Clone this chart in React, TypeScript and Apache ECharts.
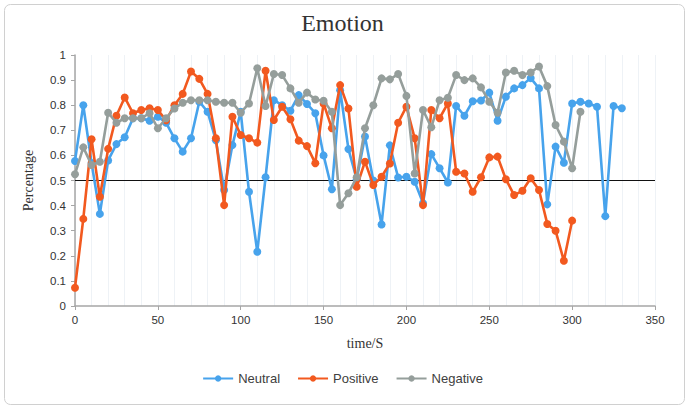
import React, { useEffect, useRef } from "react";
import * as echarts from "echarts";

const times = [
  0, 5, 10, 15, 20, 25, 30, 35, 40, 45, 50, 55, 60, 65, 70, 75, 80, 85, 90, 95,
  100, 105, 110, 115, 120, 125, 130, 135, 140, 145, 150, 155, 160, 165, 170, 175,
  180, 185, 190, 195, 200, 205, 210, 215, 220, 225, 230, 235, 240, 245, 250, 255,
  260, 265, 270, 275, 280, 285, 290, 295, 300, 305, 310, 315, 320, 325, 330,
];

const neutral = [
  0.578, 0.8, 0.57, 0.367, 0.58, 0.645, 0.672, 0.748, 0.748, 0.738, 0.754, 0.73,
  0.668, 0.615, 0.668, 0.814, 0.774, 0.66, 0.462, 0.641, 0.774, 0.455, 0.216,
  0.513, 0.82, 0.8, 0.778, 0.84, 0.805, 0.768, 0.6, 0.465, 0.86, 0.625, 0.505,
  0.675, 0.5, 0.325, 0.64, 0.512, 0.515, 0.495, 0.41, 0.605, 0.549, 0.492, 0.797,
  0.758, 0.816, 0.819, 0.85, 0.738, 0.834, 0.867, 0.88, 0.908, 0.867, 0.405,
  0.635, 0.571, 0.807, 0.814, 0.807, 0.794, 0.358, 0.797, 0.788,
];

const positive = [
  0.073, 0.347, 0.664, 0.435, 0.626, 0.758, 0.831, 0.768, 0.781, 0.788, 0.781,
  0.74, 0.8, 0.845, 0.934, 0.905, 0.845, 0.668, 0.402, 0.754, 0.681, 0.668, 0.651,
  0.937, 0.741, 0.794, 0.744, 0.659, 0.637, 0.569, 0.807, 0.708, 0.88, 0.787,
  0.475, 0.575, 0.482, 0.515, 0.568, 0.73, 0.794, 0.668, 0.402, 0.781, 0.748,
  0.807, 0.535, 0.528, 0.455, 0.513, 0.592, 0.595, 0.505, 0.442, 0.459, 0.509,
  0.462, 0.327, 0.3, 0.18, 0.34,
];

const negative = [
  0.525, 0.632, 0.562, 0.575, 0.77, 0.73, 0.748, 0.748, 0.748, 0.768, 0.708, 0.748,
  0.787, 0.81, 0.82, 0.82, 0.82, 0.814, 0.81, 0.81, 0.77, 0.807, 0.947, 0.797,
  0.924, 0.92, 0.867, 0.81, 0.85, 0.823, 0.818, 0.774, 0.402, 0.449, 0.513, 0.708,
  0.8, 0.907, 0.903, 0.924, 0.837, 0.528, 0.781, 0.712, 0.82, 0.83, 0.92, 0.9,
  0.907, 0.871, 0.814, 0.77, 0.93, 0.937, 0.92, 0.93, 0.954, 0.876, 0.721, 0.655,
  0.549, 0.774,
];

const seriesNames = ["Neutral", "Positive", "Negative"];
const seriesValues = [neutral, positive, negative];
const seriesColors = ["#47a3ec", "#f2591f", "#959e9b"];
const referenceLevel = 0.5;

export default function App() {
  const ref = useRef<HTMLDivElement>(null);

  useEffect(() => {
    document.body.style.margin = "0";
    if (!ref.current) return;
    const chart = echarts.init(ref.current, null, { renderer: "svg" });
    const tickFont = "'Liberation Sans', Arial, sans-serif";
    const serif = "'Liberation Serif', 'DejaVu Serif', serif";

    const series: any[] = seriesNames.map((name, k) => ({
      name,
      type: "line",
      data: seriesValues[k].map((v, i) => [times[i], v]),
      symbol: "circle",
      symbolSize: 8,
      showSymbol: true,
      lineStyle: { width: 2.6, color: seriesColors[k] },
      itemStyle: { color: seriesColors[k] },
      z: 2 + k,
    }));
    series[0].markLine = {
      silent: true,
      symbol: "none",
      label: { show: false },
      lineStyle: { color: "#111", width: 1, type: "solid" },
      data: [{ yAxis: referenceLevel }],
      z: 1,
    };

    chart.setOption({
      animation: false,
      backgroundColor: "#ffffff",
      title: {
        text: "Emotion",
        left: "center",
        top: 6,
        textStyle: {
          fontFamily: serif,
          fontSize: 24,
          fontWeight: "normal",
          color: "#333333",
        },
      },
      graphic: [
        {
          type: "rect",
          left: 2,
          top: 2,
          shape: { width: 680, height: 400, r: 6 },
          style: { fill: "none", stroke: "#d0d0d0", lineWidth: 1 },
          silent: true,
        },
      ],
      grid: { left: 75, right: 30, top: 55, bottom: 99, containLabel: false },
      legend: {
        bottom: 15,
        left: "center",
        itemWidth: 30,
        itemHeight: 8,
        itemGap: 17,
        textStyle: { fontFamily: tickFont, fontSize: 13, color: "#404040" },
        data: seriesNames,
      },
      xAxis: {
        type: "value",
        min: 0,
        max: 350,
        interval: 50,
        name: "time/S",
        nameLocation: "middle",
        nameGap: 30,
        nameTextStyle: { fontFamily: serif, fontSize: 14, color: "#333" },
        axisLine: { show: true, lineStyle: { color: "#a6a6a6", width: 1.5 } },
        axisTick: { show: true, length: 4, lineStyle: { color: "#a6a6a6" } },
        axisLabel: { fontFamily: tickFont, fontSize: 11.5, color: "#333333", margin: 8 },
        splitLine: { show: true, lineStyle: { color: "#eef2f6", width: 1 } },
        minorTick: { show: false, splitNumber: 5 },
        minorSplitLine: { show: true, lineStyle: { color: "#eef2f6", width: 1 } },
      },
      yAxis: {
        type: "value",
        min: 0,
        max: 1,
        interval: 0.1,
        name: "Percentage",
        nameLocation: "middle",
        nameGap: 40,
        nameTextStyle: { fontFamily: serif, fontSize: 14, color: "#333" },
        axisLine: { show: true, lineStyle: { color: "#a6a6a6", width: 1.5 } },
        axisTick: { show: true, length: 4, lineStyle: { color: "#a6a6a6" } },
        axisLabel: {
          fontFamily: tickFont,
          fontSize: 11.5,
          color: "#333333",
          margin: 9,
          formatter: (v: number) => String(Number(v.toFixed(1))),
        },
        splitLine: { show: false },
      },
      series,
    });

    return () => chart.dispose();
  }, []);

  return <div ref={ref} style={{ width: 685, height: 405 }} />;
}
